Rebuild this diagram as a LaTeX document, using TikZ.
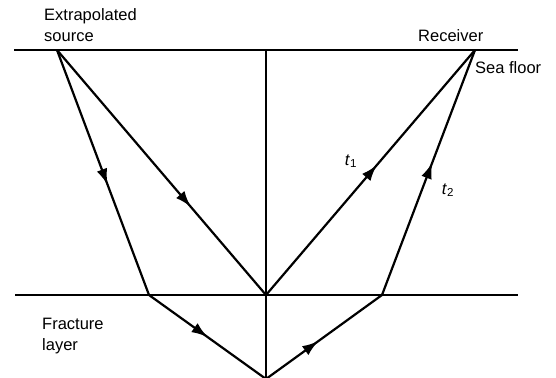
\documentclass[tikz,border=0pt]{standalone}
\usepackage{fontspec}
\setmainfont{Liberation Sans}
\usetikzlibrary{decorations.markings,arrows.meta}
\begin{document}
\begin{tikzpicture}[x=1pt,y=-1pt,
  line/.style={line width=2.2pt},
  ray/.style={line width=2.2pt,postaction={decorate},decoration={markings,mark=at position #1 with {\arrow{Latex[length=16pt,width=11pt]}}}},
  lbl/.style={font=\fontsize{16.5}{21}\selectfont,inner sep=0pt}]
\useasboundingbox (0,0) rectangle (556,377);
\coordinate (tl) at (14,50);
\coordinate (tr) at (518,50);
\coordinate (bl) at (15,295);
\coordinate (br) at (518,295);
\coordinate (vt) at (266,50);
\coordinate (vb) at (266,380);
\coordinate (S) at (57,50);
\coordinate (R) at (475,50);
\coordinate (C) at (266,295);
\coordinate (K1) at (149,295);
\coordinate (K2) at (382,295);
\coordinate (B) at (266,379);
\draw[line] (tl) -- (tr);
\draw[line] (bl) -- (br);
\draw[line] (vt) -- (vb);
\draw[ray=0.55] (S) -- (K1);
\draw[ray=0.64] (S) -- (C);
\draw[ray=0.50] (K1) -- (B);
\draw[ray=0.45] (B) -- (K2);
\draw[ray=0.54] (K2) -- (R);
\draw[ray=0.53] (C) -- (R);
\node[lbl,anchor=west,align=left] (src) at (44,25) {Extrapolated\\source};
\node[lbl,anchor=west] (rcv) at (418,36) {Receiver};
\node[lbl,anchor=west] (sf) at (475,68) {Sea floor};
\node[lbl,anchor=west,align=left] (fl) at (42,336) {Fracture\\layer};
\node[lbl] (t1) at (351,161) {\textit{t}\textsubscript{1}};
\node[lbl] (t2) at (448,190) {\textit{t}\textsubscript{2}};
\end{tikzpicture}
\end{document}
